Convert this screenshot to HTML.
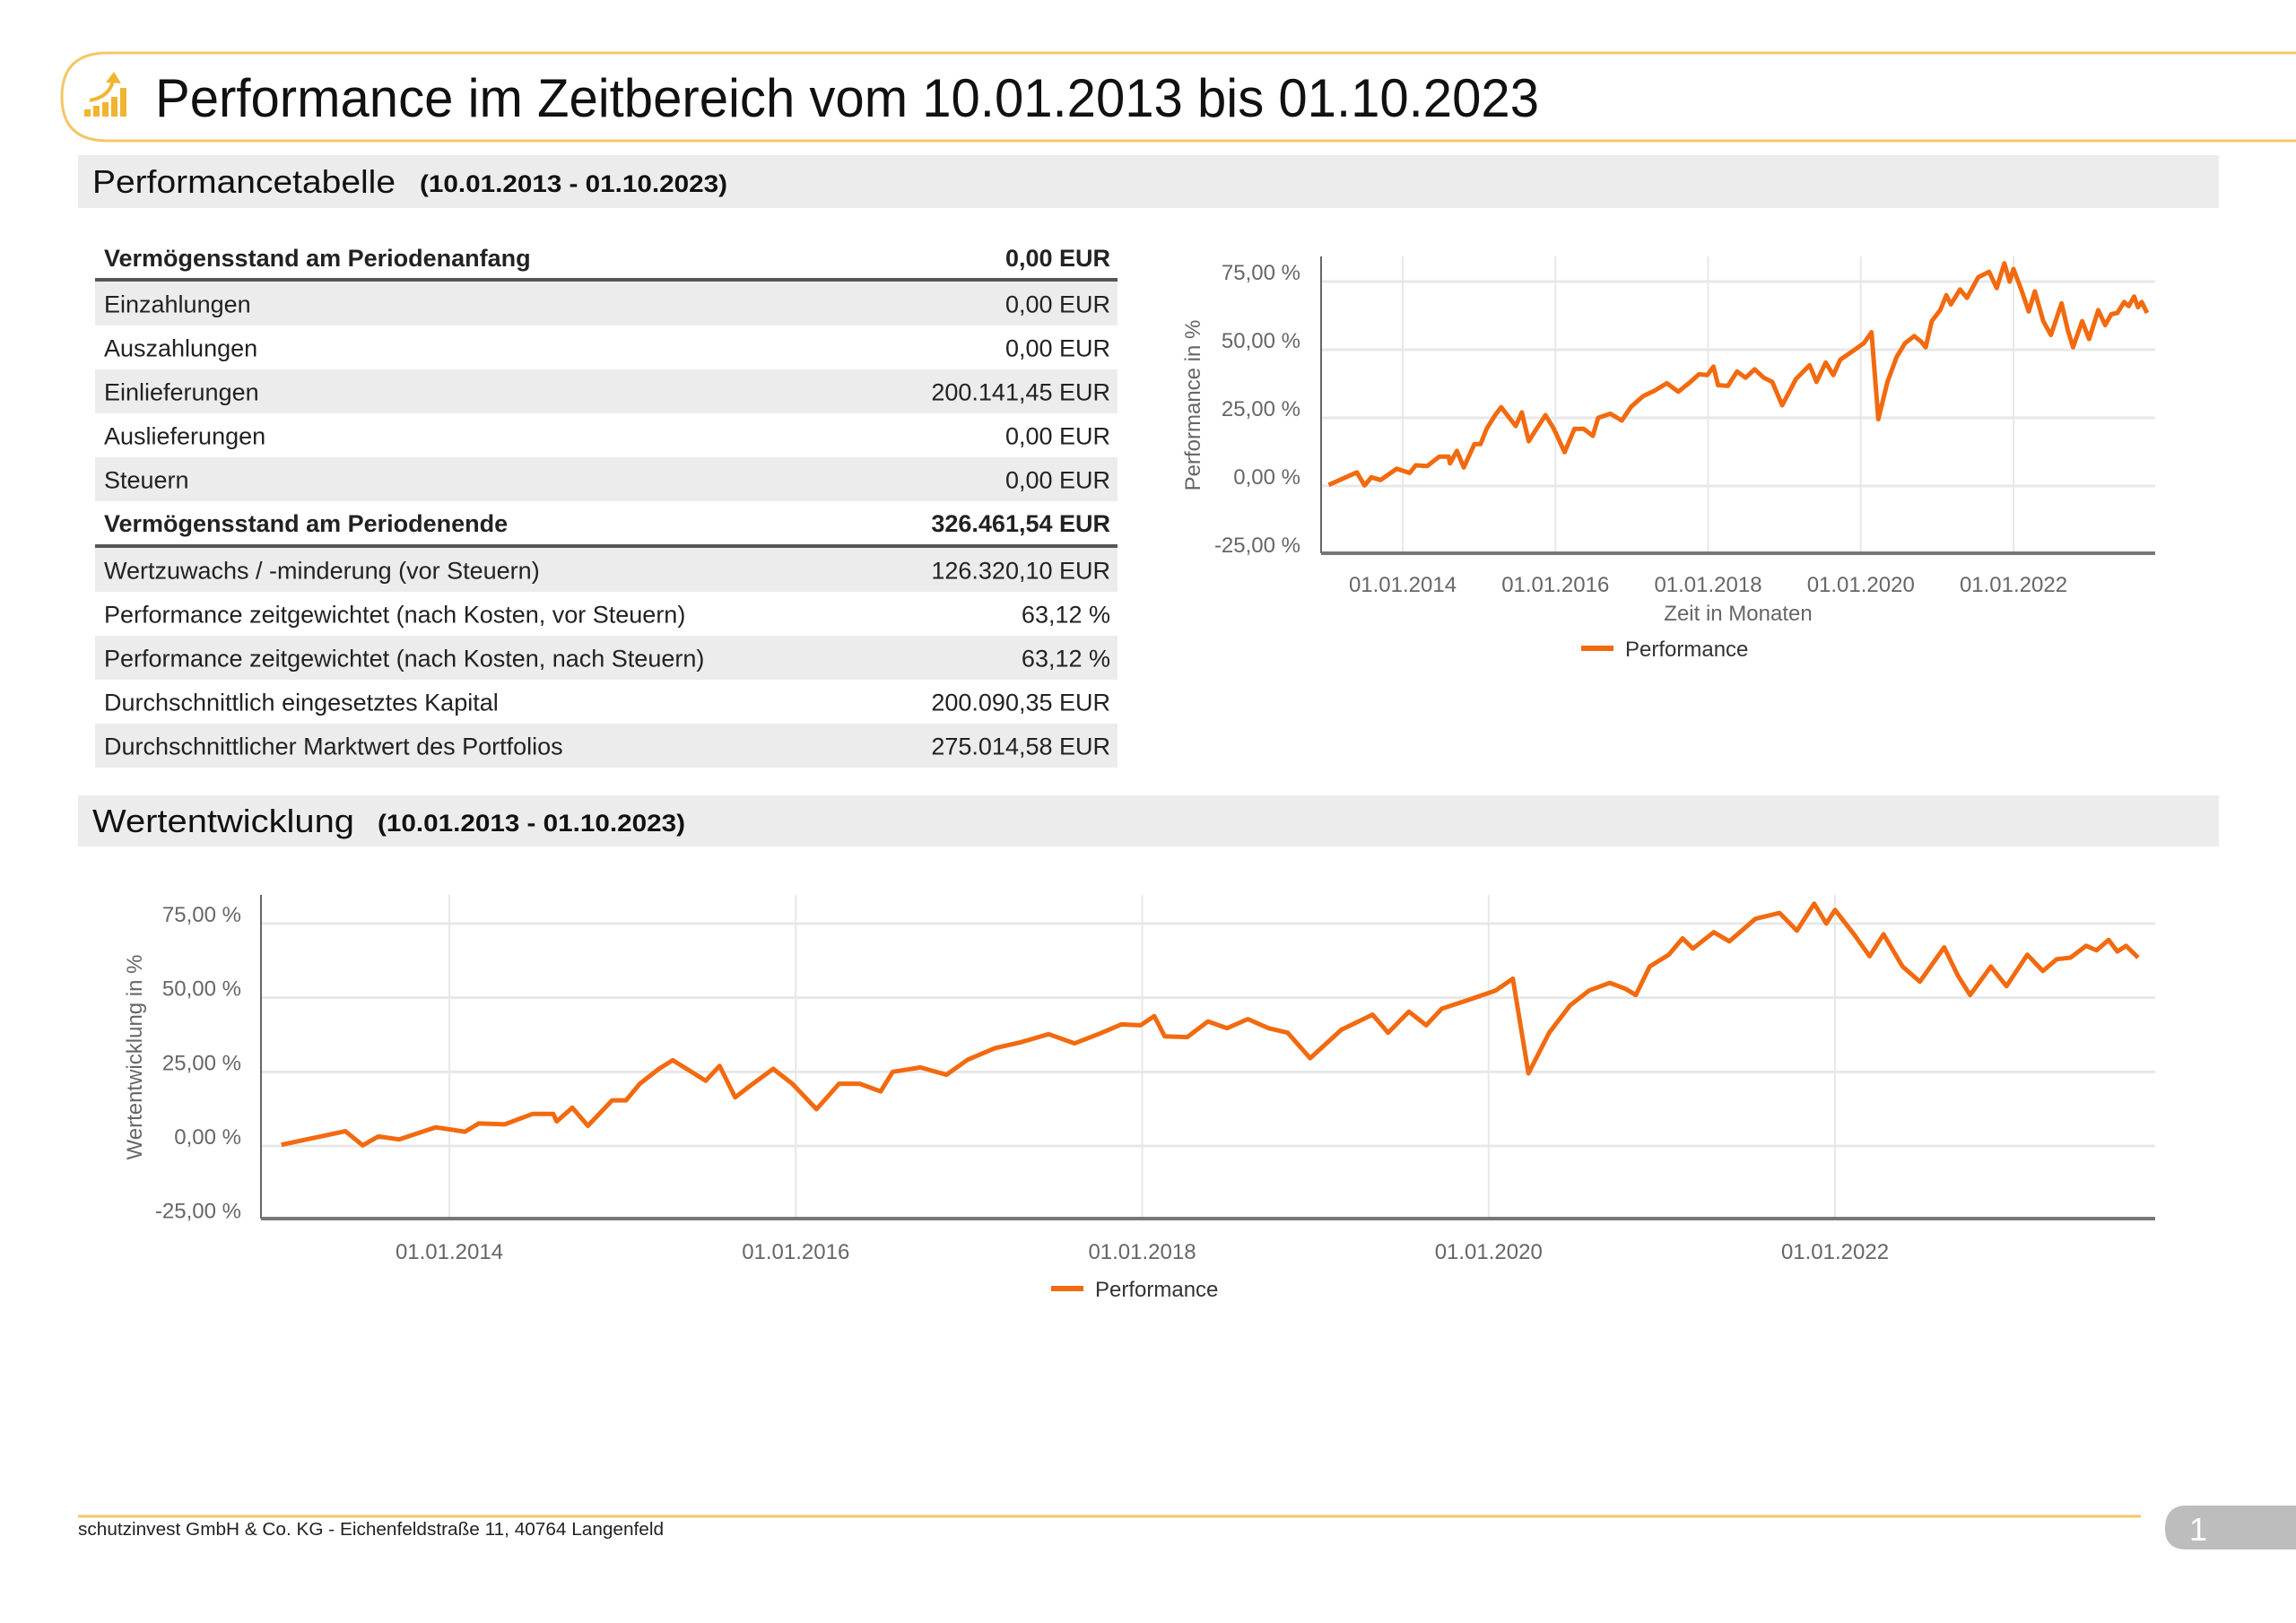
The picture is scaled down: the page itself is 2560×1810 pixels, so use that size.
<!DOCTYPE html>
<html><head><meta charset="utf-8"><style>
html,body{margin:0;padding:0;background:#fff}
svg{display:block}
text{font-family:"Liberation Sans",sans-serif}
</style></head><body>
<svg id="page" width="2560" height="1810" viewBox="0 0 2560 1810" xmlns="http://www.w3.org/2000/svg">
<!-- header -->
<path d="M2560 59 H120 Q69 59 69 108 Q69 157 120 157 H2560" fill="none" stroke="#f3c766" stroke-width="3"/>
<g fill="#f0b530">
<rect x="94" y="122" width="7" height="8"/><rect x="104" y="118" width="7" height="12"/><rect x="114" y="114" width="7" height="16"/><rect x="124" y="108" width="7" height="22"/><rect x="134" y="98" width="7" height="32"/>
<path d="M100 112 Q122 108 126 90" fill="none" stroke="#f0b530" stroke-width="4"/>
<path d="M118 92 L127 80 L135 93 Z"/>
</g>
<text x="173" y="130" font-size="60" fill="#111" textLength="1543" lengthAdjust="spacingAndGlyphs">Performance im Zeitbereich vom 10.01.2013 bis 01.10.2023</text>

<!-- section 1 -->
<rect x="87" y="173" width="2387" height="59" fill="#ececec"/>
<text x="103" y="215" font-size="36" fill="#111" textLength="338" lengthAdjust="spacingAndGlyphs">Performancetabelle</text>
<text x="468" y="214" font-size="27" font-weight="bold" fill="#111" textLength="343" lengthAdjust="spacingAndGlyphs">(10.01.2013 - 01.10.2023)</text>

<g id="table"></g>

<!-- section 2 -->
<rect x="87" y="887" width="2387" height="57" fill="#ececec"/>
<text x="103" y="928" font-size="36" fill="#111" textLength="292" lengthAdjust="spacingAndGlyphs">Wertentwicklung</text>
<text x="421" y="927" font-size="27" font-weight="bold" fill="#111" textLength="343" lengthAdjust="spacingAndGlyphs">(10.01.2013 - 01.10.2023)</text>

<g id="smallChart"></g>
<g id="bigChart"></g>

<!-- footer -->
<line x1="87" y1="1691" x2="2387" y2="1691" stroke="#f3c766" stroke-width="3"/>
<text x="87" y="1712" font-size="20" fill="#222" textLength="653" lengthAdjust="spacingAndGlyphs">schutzinvest GmbH &amp; Co. KG - Eichenfeldstraße 11, 40764 Langenfeld</text>
<path d="M2560 1679 H2438 Q2414 1679 2414 1705 Q2414 1728 2438 1728 H2560 Z" fill="#bdbdbd"/>
<text x="2451" y="1718" font-size="36" fill="#fff" text-anchor="middle">1</text>
</svg>
<script>
const NS="http://www.w3.org/2000/svg";
// ---- table data ----
const rowLabels=["Einzahlungen","Auszahlungen","Einlieferungen","Auslieferungen","Steuern"];
const rowValues=["0,00 EUR","0,00 EUR","200.141,45 EUR","0,00 EUR","0,00 EUR"];
const row2Labels=["Wertzuwachs / -minderung (vor Steuern)","Performance zeitgewichtet (nach Kosten, vor Steuern)","Performance zeitgewichtet (nach Kosten, nach Steuern)","Durchschnittlich eingesetztes Kapital","Durchschnittlicher Marktwert des Portfolios"];
const row2Values=["126.320,10 EUR","63,12 %","63,12 %","200.090,35 EUR","275.014,58 EUR"];

// ---- chart data (decimal year, percent) ----
const dates=[2013.03,2013.40,2013.50,2013.59,2013.71,2013.92,2014.09,2014.17,2014.32,2014.48,2014.60,2014.62,2014.71,2014.80,2014.94,2015.02,2015.10,2015.21,2015.29,2015.37,2015.48,2015.56,2015.65,2015.73,2015.87,2015.98,2016.12,2016.25,2016.37,2016.49,2016.56,2016.72,2016.87,2016.99,2017.15,2017.30,2017.46,2017.61,2017.76,2017.88,2017.99,2018.07,2018.13,2018.26,2018.38,2018.49,2018.61,2018.73,2018.84,2018.97,2019.15,2019.33,2019.42,2019.54,2019.64,2019.73,2019.89,2020.04,2020.14,2020.23,2020.35,2020.47,2020.58,2020.70,2020.79,2020.85,2020.93,2021.04,2021.12,2021.18,2021.30,2021.39,2021.54,2021.68,2021.78,2021.88,2021.95,2022.00,2022.11,2022.20,2022.28,2022.39,2022.49,2022.63,2022.71,2022.78,2022.90,2022.99,2023.11,2023.20,2023.28,2023.36,2023.45,2023.51,2023.58,2023.63,2023.68,2023.75];
const perf=[0.4,5,0.2,3.2,2.2,6.3,4.8,7.6,7.3,10.8,10.8,8.3,12.9,6.8,15.4,15.4,21,26,28.9,26,22,27,16.4,20,26,21,12.4,21,21,18.4,25,26.5,24,29,33,35,37.7,34.6,38,41,40.7,43.8,37,36.7,42,39.7,42.8,39.7,38.2,29.6,39.2,44.3,38.2,45.3,40.7,46.3,49.4,52.4,56.4,24.5,38.2,47.4,52.4,55,53,50.9,60.5,64.5,70,66.6,72.1,69,76.6,78.6,72.6,81.7,75,79.6,71.4,64,71.4,60.5,55.4,67,57.4,50.9,60.5,53.9,64.5,59,63,63.5,67.5,66,69.5,65.6,67.5,63.5];
const yTicks=[75,50,25,0,-25];
const yTickLabels=["75,00 %","50,00 %","25,00 %","0,00 %","-25,00 %"];
const xTicks=[2014,2016,2018,2020,2022];
const xTickLabels=["01.01.2014","01.01.2016","01.01.2018","01.01.2020","01.01.2022"];

function mk(tag,attrs,parent){const e=document.createElementNS(NS,tag);for(const k in attrs)e.setAttribute(k,attrs[k]);parent.appendChild(e);return e;}

// ---- table ----
(function(){
  const g=document.getElementById('table');
  const L=106,R=1246;
  function row(y,h,label,val,shade,bold,name){
    if(shade){const r=mk('rect',{x:L,y:y,width:R-L,height:h,fill:'#ececec'},g);
      
      }
    const t=mk('text',{x:L+10,y:y+h/2+10,'font-size':27,fill:'#222','font-weight':bold?'bold':'normal'},g);
    t.textContent=label;
    
    
    const v=mk('text',{x:R-8,y:y+h/2+10,'font-size':27,fill:'#222','text-anchor':'end','font-weight':bold?'bold':'normal'},g);
    v.textContent=val;
    
    
  }
  row(264,46,"Vermögensstand am Periodenanfang","0,00 EUR",false,true,'row-anfang');
  const l1=mk('rect',{x:L,y:310,width:R-L,height:4,fill:'#555'},g);
  
  
  rowLabels.forEach((lab,i)=>row(314+i*49,49,lab,rowValues[i],i%2===0,false,'row-'+i));
  row(559,48,"Vermögensstand am Periodenende","326.461,54 EUR",false,true,'row-endstand');
  const l2=mk('rect',{x:L,y:607,width:R-L,height:4,fill:'#555'},g);
  
  
  row2Labels.forEach((lab,i)=>row(611+i*49,49,lab,row2Values[i],i%2===0,false,'row2-'+i));
})();

// ---- charts ----
function drawChart(g,cfg){
  const xScale=d=>cfg.x0+(d-2014)*(cfg.x1-cfg.x0)/8;
  const yScale=v=>cfg.y0+(v)*(cfg.y75-cfg.y0)/75;
  xTicks.forEach((t,i)=>{
    const l=mk('line',{x1:xScale(t),x2:xScale(t),y1:cfg.top,y2:cfg.bottom,stroke:'#e8e8e8','stroke-width':2},g);
    
    
    const tx=mk('text',{x:xScale(t),y:cfg.xLabelY,'font-size':24,fill:'#666','text-anchor':'middle'},g);
    tx.textContent=xTickLabels[i];
    
    
  });
  yTicks.forEach((t,i)=>{
    if(t!==-25){const l=mk('line',{x1:cfg.left,x2:cfg.right,y1:yScale(t),y2:yScale(t),stroke:'#e8e8e8','stroke-width':3},g);
      
      }
    const tx=mk('text',{x:cfg.yLabelX,y:yScale(t)-2,'font-size':24,fill:'#666','text-anchor':'end'},g);
    tx.textContent=yTickLabels[i];
    
    
  });
  const ax=mk('line',{x1:cfg.left,x2:cfg.left,y1:cfg.top,y2:cfg.bottom,stroke:'#666','stroke-width':2},g);
  
  
  const bx=mk('line',{x1:cfg.left,x2:cfg.right,y1:cfg.bottom,y2:cfg.bottom,stroke:'#777','stroke-width':4},g);
  
  
  const pts=dates.map((d,i)=>xScale(d).toFixed(1)+','+yScale(perf[i]).toFixed(1)).join(' ');
  const pl=mk('polyline',{points:pts,fill:'none',stroke:'#f26a10','stroke-width':5,'stroke-linejoin':'round'},g);
  
  
  const yt=mk('text',{x:0,y:0,'font-size':24,fill:'#666','text-anchor':'middle',transform:`translate(${cfg.yTitleX},${cfg.yTitleY}) rotate(-90)`},g);
  yt.textContent=cfg.yTitle;
  
  
  if(cfg.xTitle){const xt=mk('text',{x:cfg.xTitleX,y:cfg.xTitleY,'font-size':24,fill:'#666','text-anchor':'middle'},g);
    xt.textContent=cfg.xTitle;
    
    }
  const lg=mk('rect',{x:cfg.legX,y:cfg.legY-3,width:36,height:6,fill:'#f26a10'},g);
  
  
  const lt=mk('text',{x:cfg.legX+49,y:cfg.legY+9,'font-size':24,fill:'#333'},g);
  lt.textContent='Performance';
  
  
}
drawChart(document.getElementById('smallChart'),{x0:1564,x1:2245,y0:542,y75:314,left:1473,right:2403,top:286,bottom:617,
  xLabelY:660,yLabelX:1450,yTitle:'Performance in %',yTitleX:1338,yTitleY:452,xTitle:'Zeit in Monaten',xTitleX:1938,xTitleY:692,legX:1763,legY:723});
drawChart(document.getElementById('bigChart'),{x0:501,x1:2046,y0:1278,y75:1030,left:291,right:2403,top:998,bottom:1359,
  xLabelY:1404,yLabelX:269,yTitle:'Wertentwicklung in %',yTitleX:158,yTitleY:1179,xTitle:null,legX:1172,legY:1437});
</script>
</body></html>
